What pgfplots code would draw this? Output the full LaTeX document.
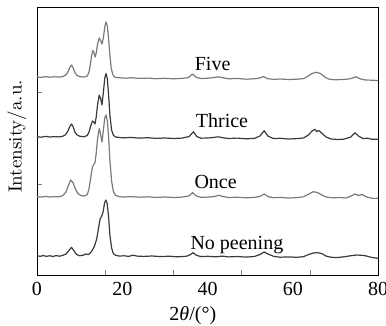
\documentclass[border=0pt]{standalone}
\usepackage{fontspec}
\setmainfont{Liberation Serif}
\usepackage{pgfplots}
\pgfplotsset{compat=1.18}
\definecolor{lightg}{HTML}{7A7A7A}
\definecolor{darkg}{HTML}{3A3A3A}
\begin{document}
\begin{tikzpicture}
\begin{axis}[
  scale only axis, width=170.5pt, height=134pt,
  xmin=0, xmax=80, ymin=0, ymax=268,
  tick align=inside, tick pos=left,
  major tick length=2.5pt,
  xtick={16,32,48,64}, xticklabels={},
  extra x ticks={0,20,40,60,80},
  extra x tick style={major tick length=0pt},
  ytick={91,183}, yticklabels={},
  /pgf/number format/assume math mode=true,
  ticklabel style={font=\fontsize{10}{12}\selectfont},
  xlabel={2\textit{θ}/(°)},
  xlabel style={at={(axis description cs:0.457,0)}, anchor=center, yshift=-20.5pt, font=\fontsize{10}{12}\selectfont},
  ylabel={Intensity/a.u.},
  ylabel style={at={(axis description cs:-0.059,0.517)}, anchor=center, rotate=0, font=\fontfamily{lmr}\fontsize{9.5}{11}\selectfont},
  every axis plot/.append style={line width=0.6pt, line join=round},
]
% Five
\addplot[lightg] coordinates {
(0,198.0)(1,197.6)(2,198.3)(3,197.8)(4,198.2)(5,197.9)(6,198.3)(6.6,199.5)(7.2,202.5)(7.7,207.5)(8.1,210)(8.5,207)(8.9,202.5)(9.4,199.5)(10,198.4)(11,198.0)(11.8,199)(12.2,203)(12.5,210)(12.8,219)(13.1,224.5)(13.4,222)(13.65,218)(13.9,222)(14.2,231)(14.6,237)(14.95,234)(15.25,231)(15.6,238)(15.9,248)(16.2,253)(16.5,249)(16.8,236)(17.1,220)(17.4,207)(17.8,200)(18.3,197.8)(19.0,197.3)(20,197.0)(21,196.8)(22,197.3)(24,196.6)(26,196.9)(28,196.3)(30,196.7)(32,196.2)(34,196.6)(35.5,197.4)(36.5,201)(37.3,197.8)(38.5,196.4)(40,196.8)(41.5,197.4)(42.5,198.2)(43.5,197.3)(45,196.2)(47,196.6)(49,195.8)(51,196.2)(52.3,197)(53.1,198.5)(54,196.4)(55.5,195.6)(57,196.0)(59,195.5)(61,195.8)(62.5,196.4)(63.5,198.5)(64.5,201.5)(65.5,202.7)(66.5,201.5)(67.5,198)(68.5,195.8)(70,195.2)(72,195.6)(73.5,196.2)(74.8,198.3)(75.8,196.2)(77,195.0)(78.5,194.8)(80,194.4)
};
% Thrice
\addplot[darkg] coordinates {
(0,138.3)(1,137.8)(2,138.6)(3,138.0)(4,138.4)(5,138.1)(6,138.6)(6.6,140)(7.2,143.5)(7.7,148.5)(8.1,151)(8.5,148)(8.9,143)(9.4,140)(10,138.8)(11,138.2)(11.8,139.5)(12.2,143)(12.6,149)(13.0,154)(13.3,153)(13.6,151)(13.9,158)(14.2,170)(14.6,180)(14.95,176)(15.25,170)(15.6,184)(15.9,197)(16.2,201.5)(16.5,196)(16.8,180)(17.1,160)(17.5,145)(17.9,140)(18.4,138)(19.5,137.4)(20.5,137.2)(22,137.6)(24,136.9)(26,137.3)(28,136.6)(30,137.0)(32,136.5)(34,136.9)(35.7,138.5)(36.7,143.3)(37.5,138.4)(38.5,136.8)(40,137.0)(41.5,137.6)(42.5,138.2)(43.5,137.3)(45,136.5)(47,136.9)(49,136.2)(51,136.6)(52.3,139)(53.3,144.3)(54.2,138.8)(55.5,136.4)(57,136.7)(59,136.0)(61,136.4)(62.5,137.0)(63.7,140)(64.5,144)(65.2,145.7)(65.6,143.5)(66.1,144.5)(66.9,141.5)(67.8,138)(69,136.0)(70.5,135.5)(72,135.8)(73.6,138)(74.6,142.3)(75.4,139)(76.5,136.4)(77.5,136.8)(78.5,135.8)(80,135.7)
};
% Once
\addplot[lightg] coordinates {
(0,78.3)(1,77.9)(2,78.6)(3,78.0)(4,78.4)(5,78.2)(6,79.2)(6.8,83)(7.4,90)(7.9,95)(8.5,92)(9.0,86)(9.6,81.5)(10.3,79.5)(11,78.8)(11.8,80.5)(12.2,86)(12.6,97)(13.0,108)(13.3,110.5)(13.6,112)(13.9,122)(14.2,136)(14.6,146.5)(14.95,140)(15.25,133)(15.6,146)(15.9,157)(16.2,160)(16.5,154)(16.8,138)(17.1,115)(17.5,94)(17.9,84)(18.4,79.5)(19.5,78.2)(20.5,78.0)(22,78.4)(24,77.8)(26,78.2)(28,77.6)(30,78.0)(32,77.5)(34,77.9)(35.6,79)(36.5,82.3)(37.4,79)(38.5,77.6)(40,77.9)(41.5,78.4)(42.7,79.7)(43.6,78.4)(45,77.5)(47,77.8)(49,77.2)(51,77.6)(52.3,78.6)(53.3,81)(54.2,78.3)(55.5,77.3)(57,77.6)(59,77.0)(61,77.4)(62.5,78.2)(63.7,80.8)(64.8,83.3)(65.8,82.5)(66.8,80)(68,77.8)(69.5,77.2)(71,77.5)(72.5,77.0)(73.8,79.2)(74.6,81)(75.4,79.5)(76.3,80.5)(77.1,78.4)(78.3,77.0)(79,76.6)(80,76.7)
};
% No peening
\addplot[darkg] coordinates {
(0,19.2)(0.8,18.7)(1.5,19.5)(2.2,18.6)(3,19.3)(3.7,18.5)(4.5,19.4)(5.3,18.8)(6,19.6)(6.8,21)(7.5,24.5)(8.1,27.7)(8.7,24)(9.3,20.5)(10,19.3)(10.8,19.8)(11.5,21)(12.0,20.4)(12.5,22)(13.0,25)(13.5,29)(14.0,36)(14.4,46)(14.8,56)(15.2,59)(15.5,63)(15.85,72)(16.15,75)(16.45,72)(16.8,58)(17.1,40)(17.5,27)(17.9,21.5)(18.4,19.8)(19.2,19.0)(20.5,19.2)(21.5,18.6)(22.5,19.8)(23.5,18.9)(25,18.6)(27,19.0)(29,18.4)(31,18.8)(33,18.2)(35,18.7)(35.8,20)(36.6,22.3)(37.5,19.5)(38.5,18.4)(40,18.7)(42,18.2)(43.5,18.9)(45,18.1)(47,18.5)(49,17.9)(51,18.5)(52.3,20.5)(53.3,23)(54.2,21)(55.5,18.7)(57,17.8)(59,18.1)(61,17.7)(62.5,18.3)(63.7,20.5)(64.8,22)(65.8,22.3)(66.8,21.5)(67.8,19)(69,17.7)(70.5,17.5)(72,18.2)(73.5,19.2)(75,20)(76.5,19.6)(77.5,18.8)(78.5,17.6)(80,16.7)
};
\node[anchor=base, font=\fontsize{10}{12}\selectfont] at (axis cs:41.2,204.5) {Five};
\node[anchor=base, font=\fontsize{10}{12}\selectfont] at (axis cs:43.4,147.7) {Thrice};
\node[anchor=base, font=\fontsize{10}{12}\selectfont] at (axis cs:41.9,86.7) {Once};
\node[anchor=base, font=\fontsize{10}{12}\selectfont] at (axis cs:46.9,25.7) {No peening};
\end{axis}
\pgfresetboundingbox
\path[use as bounding box] ([shift={(-18.5pt,-25pt)}]current axis.south west) rectangle ([shift={(4pt,3.5pt)}]current axis.north east);
\end{tikzpicture}
\end{document}
